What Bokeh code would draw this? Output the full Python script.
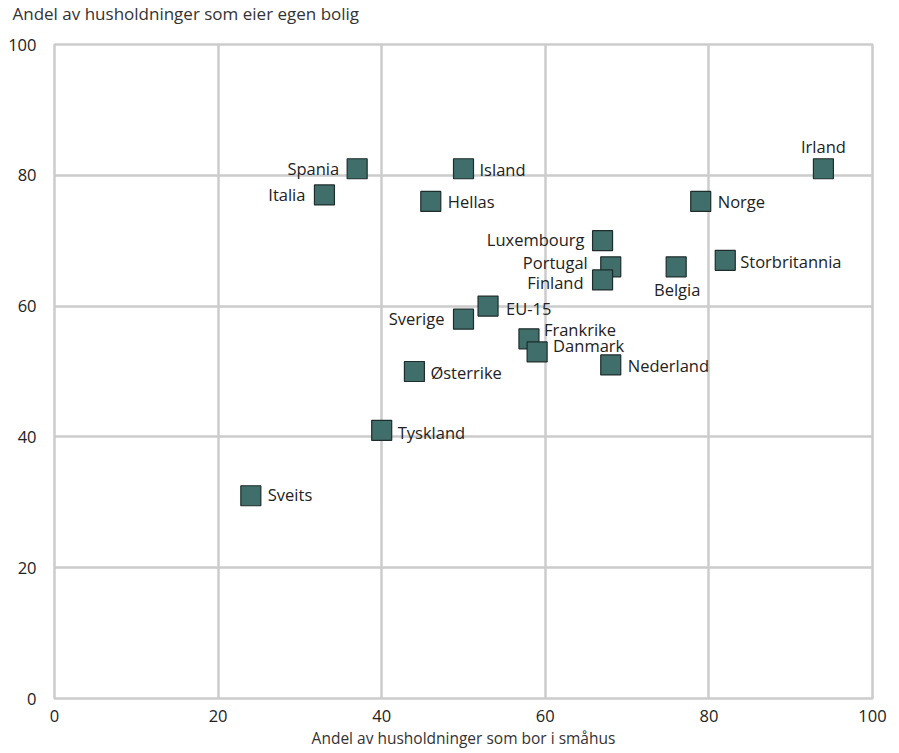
from bokeh.plotting import figure
from bokeh.models import ColumnDataSource, Range1d, FixedTicker, Title
from bokeh.core.properties import value
from bokeh.embed import file_html
from bokeh.resources import INLINE

countries = ["Spania", "Italia", "Island", "Hellas", "Irland", "Norge", "Luxembourg",
             "Portugal", "Finland", "Belgia", "Storbritannia", "EU-15", "Sverige",
             "Frankrike", "Danmark", "Nederland", "Østerrike", "Tyskland", "Sveits"]
smahus = [37, 33, 50, 46, 94, 79, 67, 68, 67, 76, 82, 53, 50, 58, 59, 68, 44, 40, 24]
eier = [81, 77, 81, 76, 81, 76, 70, 66, 64, 66, 67, 60, 58, 55, 53, 51, 50, 41, 31]
x_ticks = [0, 20, 40, 60, 80, 100]
y_ticks = [0, 20, 40, 60, 80, 100]
y_title = "Andel av husholdninger som eier egen bolig"
x_title = "Andel av husholdninger som bor i småhus"

# label placement (style): x offset px, y offset px (screen, down positive), alignment
label_style = {
    "Spania": (-18, 0, "right"), "Italia": (-19, 0, "right"), "Island": (16, 1, "left"),
    "Hellas": (17, 0, "left"), "Irland": (0, -22, "center"), "Norge": (17, 0, "left"),
    "Luxembourg": (-18, -1, "right"), "Portugal": (-23, -4, "right"), "Finland": (-19, 3, "right"),
    "Belgia": (1, 23, "center"), "Storbritannia": (15, 1, "left"), "EU-15": (18, 2, "left"),
    "Sverige": (-19, -1, "right"), "Frankrike": (15, -9, "left"), "Danmark": (16, -6, "left"),
    "Nederland": (17, 1, "left"), "Østerrike": (16, 1, "left"), "Tyskland": (16, 2, "left"),
    "Sveits": (17, -1, "left"),
}

FONT = "Open Sans"

p = figure(width=899, height=752, output_backend="svg", toolbar_location=None, title=None,
           x_range=Range1d(0, 100), y_range=Range1d(0, 100),
           min_border_left=54, min_border_right=27, min_border_top=44, min_border_bottom=54)

# spacer between the frame and the y-axis title
p.add_layout(Title(text=" ", text_font=FONT, text_font_size="8px", standoff=3), "above")
p.add_layout(Title(text=y_title, align="left", offset=-42, vertical_align="top",
                   text_font=FONT, text_font_size="17px", text_font_style="normal",
                   text_color="#333333", standoff=3), "above")

for ax, ticks in ((p.xaxis[0], x_ticks), (p.yaxis[0], y_ticks)):
    ax.ticker = FixedTicker(ticks=ticks)
    ax.axis_line_color = None
    ax.major_tick_line_color = None
    ax.minor_tick_line_color = None
    ax.major_label_text_font = FONT
    ax.major_label_text_font_size = "16.5px"
    ax.major_label_text_color = "#222222"
    ax.axis_label_text_font = FONT
    ax.axis_label_text_font_size = "15.5px"
    ax.axis_label_text_font_style = "normal"
    ax.axis_label_text_color = "#333333"

p.xaxis.axis_label = x_title
p.xaxis.major_label_standoff = 5
p.xaxis.axis_label_standoff = 2
p.yaxis.major_label_standoff = 12

p.grid.grid_line_color = "#cccccc"
p.grid.grid_line_width = 2.5
p.outline_line_color = "#cccccc"
p.outline_line_width = 2.5
p.background_fill_color = "white"
p.border_fill_color = "white"

src = ColumnDataSource(dict(
    x=smahus, y=eier, name=countries,
    dx=[label_style[c][0] for c in countries],
    dy=[label_style[c][1] for c in countries],
    align=[label_style[c][2] for c in countries],
))

p.scatter("x", "y", source=src, marker="square", size=20, fill_color="#3f6e6b",
          line_color="#1e2d2b", line_width=1.2)

p.text("x", "y", text="name", source=src, x_offset="dx", y_offset="dy",
       text_align="align", text_baseline="middle", text_font=value(FONT),
       text_font_size="16.5px", text_color="#222222")

open("out.html", "w").write(file_html(p, INLINE))
